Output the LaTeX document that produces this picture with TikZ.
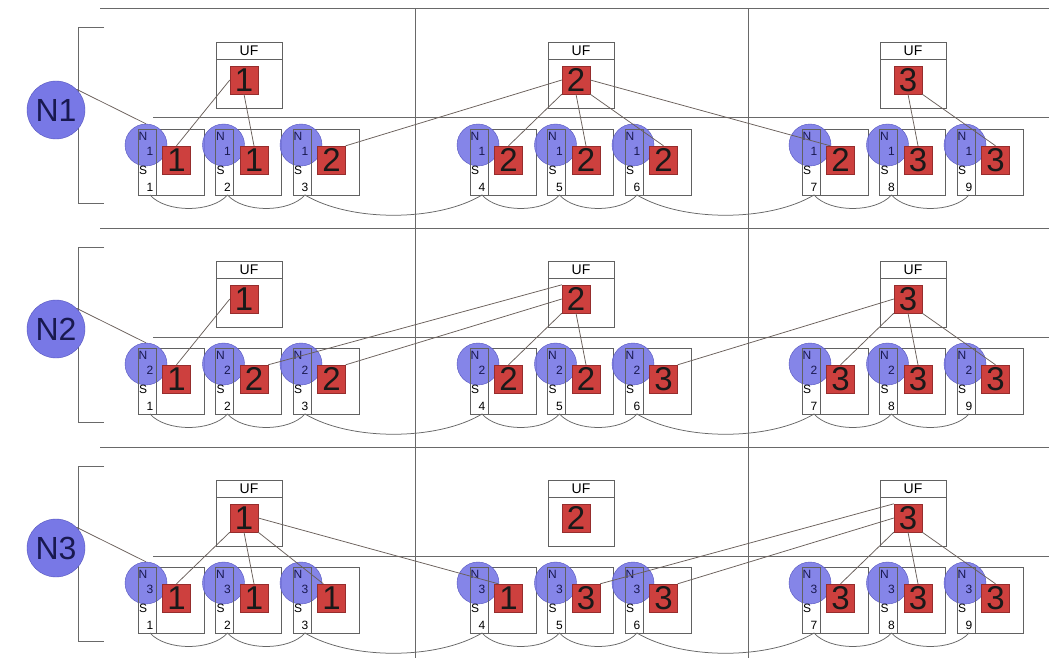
\documentclass[tikz,border=0pt]{standalone}
\usepackage{fontspec}
\setmainfont{Liberation Sans}
\usetikzlibrary{calc}
\definecolor{blu}{RGB}{120,120,230}
\definecolor{bluedge}{RGB}{85,85,190}
\definecolor{rd}{RGB}{205,64,62}
\definecolor{rdedge}{RGB}{150,45,45}
\definecolor{framecol}{RGB}{105,105,105}
\definecolor{conncol}{RGB}{105,95,90}
\definecolor{navy}{RGB}{25,25,80}
\tikzset{
  frameline/.style={draw=framecol, line width=1pt},
  boxline/.style={draw=black!62, line width=0.8pt},
  sqnode/.style={draw=rdedge, fill=rd, minimum width=28pt, minimum height=28pt, inner sep=0pt,
    font=\fontsize{33}{33}\selectfont, text=black!90},
  circnode/.style={circle, draw=bluedge, fill=blu, fill opacity=0.9, minimum size=42pt, inner sep=0pt},
  bigcirc/.style={circle, draw=bluedge, fill=blu, minimum size=58pt, inner sep=0pt,
    font=\fontsize{32}{32}\selectfont, text=navy},
  smalltxt/.style={font=\fontsize{12}{12}\selectfont, inner sep=0pt},
  uftxt/.style={font=\fontsize{14}{14}\selectfont, inner sep=0pt},
  connline/.style={draw=conncol, line width=0.75pt},
  arcline/.style={draw=black!60, line width=0.75pt},
}
\begin{document}
\begin{tikzpicture}[x=1pt,y=-1pt]
\useasboundingbox (0,0) rectangle (1049,658);
\fill[white] (0,0) rectangle (1049,658);
% frame
\foreach \yy in {0,219,438}{
  \draw[frameline] (100,9+\yy) -- (1049,9+\yy);
  \draw[frameline] (153,118+\yy) -- (1049,118+\yy);
  \draw[frameline] (104,28+\yy) -- (78,28+\yy) -- (78,203+\yy) -- (104,203+\yy);
}
\draw[frameline] (415,9) -- (415,658);
\draw[frameline] (748,9) -- (748,658);
% big circles
\node[bigcirc] (N1) at (56,110) {N1};
\node[bigcirc] (N2) at (56,329) {N2};
\node[bigcirc] (N3) at (56,548) {N3};
% cells
\foreach \r/\vals in {0/{1,1,2,2,2,2,2,3,3}, 1/{1,2,2,2,2,3,3,3,3}, 2/{1,1,1,1,3,3,3,3,3}}{
  \foreach \v [count=\i] in \vals {
    \pgfmathsetmacro\X{138 + 332*floor((\i-1)/3) + 77.5*mod(\i-1,3)}
    \pgfmathsetmacro\Y{129 + 219*\r}
    \pgfmathtruncatemacro\R{\r+1}
    \draw[boxline, fill=white] (\X,\Y) rectangle ++(66,66);
    \node[circnode] (c\R-\i) at (\X+8,\Y+16) {};
    \draw[boxline] (\X,\Y) rectangle ++(18,66);
    \node[sqnode] (s\R-\i) at (\X+38.5,\Y+31) {\v};
    \node[smalltxt, text=navy] at (\X+5,\Y+7) {N};
    \node[smalltxt, text=navy] at (\X+12,\Y+22) {\R};
    \node[smalltxt] at (\X+5,\Y+41) {S};
    \node[smalltxt] at (\X+12,\Y+58) {\i};
    \coordinate (b\R-\i) at (\X+12,\Y+66);
  }
}
% UF boxes
\foreach \r in {0,1,2}{
  \foreach \c in {1,2,3}{
    \pgfmathsetmacro\X{216 + 332*(\c-1)}
    \pgfmathsetmacro\Y{42 + 219*\r}
    \pgfmathtruncatemacro\R{\r+1}
    \draw[boxline, fill=white] (\X,\Y) rectangle ++(66,66);
    \draw[boxline] (\X,\Y+17) -- ++(66,0);
    \node[uftxt] at (\X+33,\Y+9) {UF};
    \node[sqnode] (u\R-\c) at (\X+28,\Y+38) {\c};
  }
}
% arcs below cells
\foreach \R in {1,2,3}{
  \foreach \i/\j in {1/2,2/3,4/5,5/6,7/8,8/9}{
    \draw[arcline] (b\R-\i) .. controls +(16,18) and +(-16,18) .. (b\R-\j);
  }
  \foreach \i/\j in {3/4,6/7}{
    \draw[arcline] (b\R-\i) .. controls +(45,27) and +(-45,27) .. (b\R-\j);
  }
}
% connections row 1
\draw[connline] (N1.north east) -- (c1-1.north);
\draw[connline] (u1-1.west) -- (s1-1.north);
\draw[connline] (u1-1.south) -- (s1-2.north);
\draw[connline] (s1-3.north east) -- (u1-2.west);
\draw[connline] (u1-2.south west) -- (s1-4.north);
\draw[connline] (u1-2.south) -- (s1-5.north);
\draw[connline] (u1-2.south east) -- (s1-6.north);
\draw[connline] (u1-2.east) -- ($(s1-7.north west)+(4,0)$);
\draw[connline] (u1-3.south) -- (s1-8.north);
\draw[connline] (u1-3.south east) -- (s1-9.north);
% connections row 2
\draw[connline] (N2.north east) -- (c2-1.north);
\draw[connline] (u2-1.west) -- (s2-1.north);
\draw[connline] (s2-2.north east) -- (u2-2.north west);
\draw[connline] (s2-3.north east) -- (u2-2.west);
\draw[connline] (u2-2.south west) -- (s2-4.north);
\draw[connline] (u2-2.south) -- (s2-5.north);
\draw[connline] (s2-6.north east) -- (u2-3.west);
\draw[connline] (u2-3.south west) -- (s2-7.north);
\draw[connline] (u2-3.south) -- (s2-8.north);
\draw[connline] (u2-3.south east) -- (s2-9.north);
% connections row 3
\draw[connline] (N3.north east) -- (c3-1.north);
\draw[connline] (u3-1.south west) -- (s3-1.north);
\draw[connline] (u3-1.south) -- (s3-2.north);
\draw[connline] (u3-1.south east) -- ($(s3-3.north west)+(6,0)$);
\draw[connline] (u3-1.east) -- ($(s3-4.north west)+(4,0)$);
\draw[connline] (s3-5.north east) -- (u3-3.north west);
\draw[connline] (s3-6.north east) -- (u3-3.west);
\draw[connline] (u3-3.south west) -- (s3-7.north);
\draw[connline] (u3-3.south) -- (s3-8.north);
\draw[connline] (u3-3.south east) -- (s3-9.north);
\end{tikzpicture}
\end{document}
